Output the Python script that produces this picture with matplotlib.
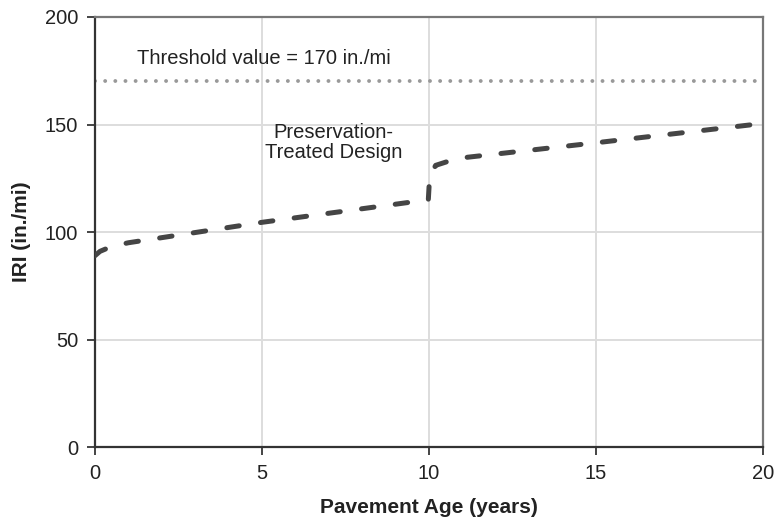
import numpy as np
import matplotlib.pyplot as plt

plt.rcParams['font.family'] = ['Liberation Sans', 'DejaVu Sans']

# IRI de la seccion con tratamiento de preservacion
age = [0, 0.15, 0.5, 1, 5, 9.98, 10.02, 10.2, 10.6, 11, 15, 20]
iri = [89, 91, 93.3, 95, 104.5, 115, 126, 131, 133, 134.5, 141.5, 150.5]

threshold = 170
xticks = [0, 5, 10, 15, 20]
yticks = [0, 50, 100, 150, 200]

fig = plt.figure(figsize=(7.78, 5.23), dpi=100)
ax = fig.add_axes([0.1221, 0.1453, 0.8586, 0.8222])

ax.axhline(threshold, color='#999999', lw=2.8, linestyle=(0, (0.01, 2.6)),
           dash_capstyle='round', zorder=2)
ax.plot(age, iri, color='#454545', lw=3.6, linestyle=(0, (2.5, 4.3)),
        dash_capstyle='round', solid_joinstyle='round', zorder=3)

ax.text(1.25, 180.5, 'Threshold value = 170 in./mi', fontsize=14.5, color='#222222',
        va='center', ha='left')
ax.text(7.15, 141.5, 'Preservation-\nTreated Design', fontsize=14.5, color='#222222',
        va='center', ha='center', linespacing=1.05)

ax.set_xlim(0, 20)
ax.set_ylim(0, 200)
ax.set_xticks(xticks)
ax.set_yticks(yticks)
ax.grid(True, color='#dddddd', lw=1.4, zorder=0)
ax.set_axisbelow(True)
ax.tick_params(labelsize=14.5, length=6, width=1.4, color='#444444', pad=6,
               labelcolor='#222222')
for s in ['left', 'bottom']:
    ax.spines[s].set_color('#333333')
    ax.spines[s].set_linewidth(1.6)
for s in ['top', 'right']:
    ax.spines[s].set_color('#777777')
    ax.spines[s].set_linewidth(1.6)

ax.set_xlabel('Pavement Age (years)', fontsize=15, fontweight='bold', labelpad=11,
              color='#222222')
ax.set_ylabel('IRI (in./mi)', fontsize=15, fontweight='bold', labelpad=10,
              color='#222222')

plt.savefig('out.png', dpi=100)
